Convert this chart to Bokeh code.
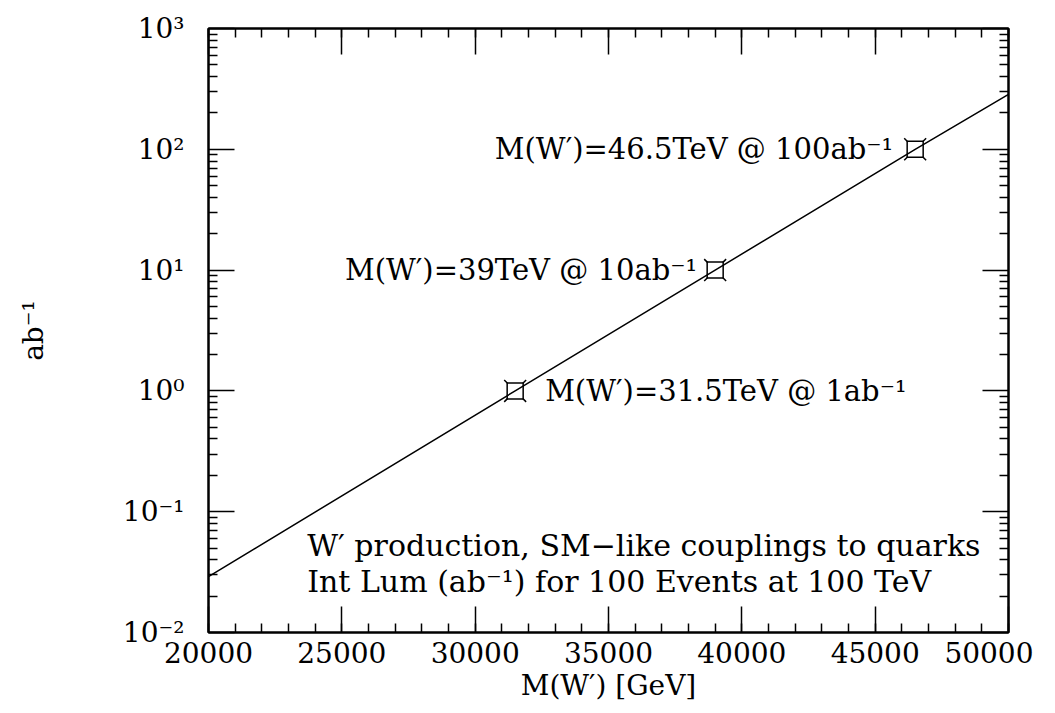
from bokeh.plotting import figure
from bokeh.models import FixedTicker, LinearAxis, LogAxis, Label, CustomJSTickFormatter
from bokeh.embed import file_html
from bokeh.resources import INLINE

# ---- data ----
mass_line = [20000, 31500, 39000, 46500, 50000]
lumi_line = [0.029, 1, 10, 100, 285]
mass_pts = [31500, 39000, 46500]
lumi_pts = [1, 10, 100]
pt_labels = ["M(W′)=31.5TeV @ 1ab⁻¹", "M(W′)=39TeV @ 10ab⁻¹", "M(W′)=46.5TeV @ 100ab⁻¹"]
note_lines = ["W′ production, SM−like couplings to quarks",
              "Int Lum (ab⁻¹) for 100 Events at 100 TeV"]
x_major = [20000, 25000, 30000, 35000, 40000, 45000, 50000]
x_minor = list(range(20000, 50001, 1000))
y_major = [0.01, 0.1, 1, 10, 100, 1000]
y_tick_labels = ["10⁻²", "10⁻¹", "10⁰", "10¹", "10²", "10³"]
y_minor = [k * 10.0 ** n for n in range(-2, 3) for k in range(2, 10)]

FONT = "DejaVu Serif"
FS = "28px"

p = figure(width=1033, height=709, x_range=(20000, 50000), y_range=(0.01, 1000),
           y_axis_type="log", output_backend="svg", toolbar_location=None,
           min_border_left=208, min_border_right=25, min_border_top=28, min_border_bottom=77)
p.xgrid.visible = False
p.ygrid.visible = False
p.outline_line_color = "black"
p.outline_line_width = 2
p.background_fill_color = "white"
p.border_fill_color = "white"

xt = FixedTicker(ticks=x_major, minor_ticks=x_minor)
yt = FixedTicker(ticks=y_major, minor_ticks=y_minor)


def style(ax, labels=True):
    ax.axis_line_color = "black"
    ax.axis_line_width = 2
    ax.major_tick_in = 26
    ax.major_tick_out = 0
    ax.minor_tick_in = 9
    ax.minor_tick_out = 0
    ax.major_tick_line_color = "black"
    ax.minor_tick_line_color = "black"
    ax.major_tick_line_width = 1.5
    ax.minor_tick_line_width = 1.5
    ax.major_label_text_font = FONT
    ax.major_label_text_color = "black"
    ax.major_label_text_font_size = FS
    ax.axis_label_text_font = FONT
    ax.axis_label_text_font_style = "normal"
    ax.axis_label_text_font_size = FS
    ax.axis_label_text_color = "black"
    if not labels:
        ax.formatter = CustomJSTickFormatter(code="return ''")
        ax.major_label_standoff = 0


xa = p.xaxis[0]
xa.ticker = xt
style(xa)
xa.major_label_standoff = 9
xa.axis_label = "M(W′) [GeV]"
xa.axis_label_standoff = 3

ya = p.yaxis[0]
ya.ticker = yt
style(ya)
ya.major_label_standoff = 24
ya.major_label_overrides = {v: s for v, s in zip(y_major, y_tick_labels)}
ya.axis_label = "ab⁻¹"
ya.axis_label_standoff = 70

top = LinearAxis(ticker=xt)
style(top, labels=False)
p.add_layout(top, "above")
right = LogAxis(ticker=yt)
style(right, labels=False)
p.add_layout(right, "right")

# markers: corner stubs (x), white square on top, line drawn over
p.scatter(mass_pts, lumi_pts, marker="x", size=31, line_color="black", line_width=1.5)
p.scatter(mass_pts, lumi_pts, marker="square", size=16, line_color="black",
          line_width=1.5, fill_color="white")
p.line(mass_line, lumi_line, line_color="black", line_width=1.5)

offsets = [30, -18, -22]
aligns = ["left", "right", "right"]
for xv, yv, txt, off, al in zip(mass_pts, lumi_pts, pt_labels, offsets, aligns):
    p.add_layout(Label(x=xv, y=yv, text=txt, x_offset=off, text_align=al,
                       text_baseline="middle", text_font=FONT, text_font_size="29px",
                       text_color="black"))

for txt, yv in zip(note_lines, [0.0525, 0.0265]):
    p.add_layout(Label(x=23700, y=yv, text=txt, text_align="left",
                       text_baseline="middle", text_font=FONT, text_font_size="30px",
                       text_color="black"))

open("out.html", "w").write(file_html(p, INLINE))
